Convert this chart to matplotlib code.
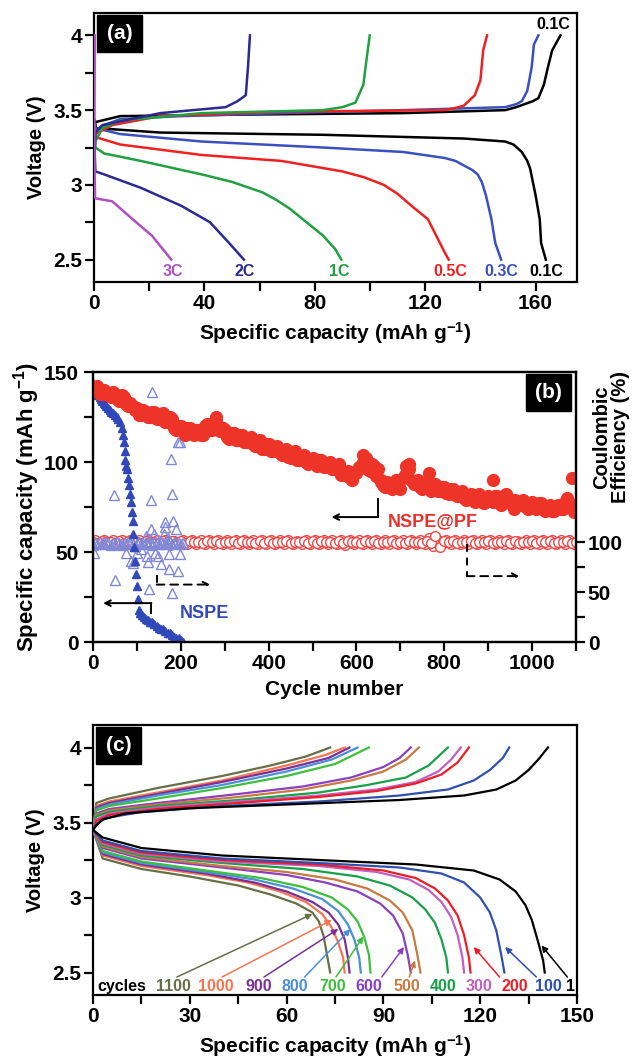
import matplotlib
matplotlib.use('Agg')
import matplotlib.pyplot as plt
from matplotlib.patches import Rectangle
from matplotlib.ticker import MultipleLocator, FixedLocator

plt.rcParams['font.family'] = ['Liberation Sans', 'DejaVu Sans']
plt.rcParams['font.weight'] = 'bold'
plt.rcParams['axes.labelweight'] = 'bold'
plt.rcParams['mathtext.fontset'] = 'custom'
plt.rcParams['mathtext.rm'] = 'Liberation Sans:bold'
plt.rcParams['mathtext.bf'] = 'Liberation Sans:bold'
plt.rcParams['mathtext.default'] = 'bf'

# ---------------- (a) rate curves: capacity (mAh/g), voltage (V) ----------------
q_ch_01 = [0, 0.5, 9.5, 54, 112, 149, 153, 156, 159, 161, 163, 164.5, 166, 169]
v_ch_01 = [3.30, 3.42, 3.46, 3.47, 3.48, 3.50, 3.52, 3.54, 3.56, 3.58, 3.67, 3.79, 3.90, 4.0]
q_dc_01 = [0, 0.7, 24, 83, 134, 149, 152, 155, 157, 158, 160, 161.5, 162, 163.7]
v_dc_01 = [3.44, 3.38, 3.35, 3.335, 3.31, 3.29, 3.27, 3.22, 3.16, 3.11, 2.93, 2.77, 2.61, 2.5]

q_ch_03 = [0, 0.5, 3.7, 9.5, 31.6, 68, 112, 149, 153, 155, 157, 158.6, 159.4, 161]
v_ch_03 = [3.28, 3.36, 3.40, 3.44, 3.46, 3.48, 3.50, 3.52, 3.54, 3.56, 3.63, 3.79, 3.94, 4.0]
q_dc_03 = [0, 0.5, 9.5, 39, 83, 112, 127, 131, 134, 137, 139, 140.5, 142, 144, 145.4, 147.5]
v_dc_03 = [3.42, 3.38, 3.34, 3.29, 3.25, 3.22, 3.18, 3.16, 3.13, 3.10, 3.07, 3.02, 2.93, 2.77, 2.61, 2.5]

q_ch_05 = [0, 0.5, 6.6, 24, 68, 127, 131, 134, 138, 140, 141, 142.4]
v_ch_05 = [3.25, 3.34, 3.40, 3.46, 3.49, 3.50, 3.515, 3.53, 3.60, 3.70, 3.90, 4.0]
q_dc_05 = [0, 0.5, 9.5, 39, 68, 90, 98, 105, 110, 115, 121, 124, 127, 128.5]
v_dc_05 = [3.40, 3.32, 3.27, 3.20, 3.16, 3.09, 3.05, 3.00, 2.94, 2.86, 2.77, 2.66, 2.55, 2.5]

q_ch_1 = [0, 0.5, 3, 9.5, 39, 83, 90, 94.7, 97.6, 98.4, 99.9]
v_ch_1 = [3.2, 3.29, 3.38, 3.43, 3.48, 3.50, 3.52, 3.55, 3.67, 3.79, 4.0]
q_dc_1 = [0, 0.5, 3.7, 17, 39, 50, 61, 66, 71, 77, 83, 87.4, 89.6]
v_dc_1 = [3.38, 3.25, 3.21, 3.16, 3.07, 3.02, 2.95, 2.90, 2.84, 2.75, 2.66, 2.57, 2.5]

q_ch_2 = [0, 0.5, 3, 24, 47.7, 52, 55, 55.8, 56.5]
v_ch_2 = [3.1, 3.35, 3.40, 3.48, 3.52, 3.56, 3.60, 3.79, 4.0]
q_dc_2 = [0, 0.5, 3.7, 17, 31.6, 42, 49, 54.3]
v_dc_2 = [3.35, 3.09, 3.07, 2.98, 2.86, 2.75, 2.61, 2.5]

q_ch_3 = [0, 0.3]
v_ch_3 = [2.95, 4.0]
q_dc_3 = [0, 0.4, 6.6, 14, 21, 28]
v_dc_3 = [3.3, 2.91, 2.89, 2.77, 2.66, 2.5]

rate_names = ['0.1C', '0.3C', '0.5C', '1C', '2C', '3C']
rate_colors = ['black', '#3a50c0', '#f02020', '#20a040', '#2a2a90', '#b050c0']
rate_label_x = [164, 147.5, 129, 89, 54.5, 28.5]

# ---------------- (b) cycling ----------------
pf_cycle = list(range(0, 1101, 10))
pf_cap = [140, 142, 138, 139, 136, 138, 134, 136, 131, 131,
          130, 126, 128, 125, 128, 124, 127, 122, 124, 118,
          120, 115, 119, 115, 118, 115, 121, 118, 123, 117,
          118, 113, 116, 112, 115, 111, 114, 109, 112, 107,
          110, 106, 109, 104, 107, 102, 106, 101, 104, 99,
          102, 98, 101, 97, 100, 96, 99, 93, 95, 90,
          94, 97, 101, 95, 98, 96, 87, 89, 85, 90,
          85, 93, 96, 88, 90, 85, 89, 84, 88, 84,
          86, 82, 85, 81, 84, 79, 82, 78, 82, 77,
          81, 78, 81, 76, 82, 77, 79, 76, 79, 74,
          78, 74, 77, 73, 76, 73, 76, 74, 80, 76,
          73]
pf_cycle2 = list(range(5, 1100, 10))
pf_cap2 = [141, 138, 140, 137, 139, 135, 137, 132, 133, 129,
           126, 129, 125, 128, 124, 126, 122, 125, 119, 120,
           118, 119, 116, 118, 115, 120, 118, 122, 120, 119,
           114, 116, 112, 115, 111, 113, 110, 111, 107, 110,
           106, 108, 105, 106, 103, 105, 101, 103, 100, 101,
           99, 101, 97, 99, 96, 97, 93, 94, 91, 94,
           97, 100, 96, 99, 92, 89, 86, 88, 87, 88,
           91, 95, 90, 89, 86, 89, 85, 87, 84, 86,
           83, 85, 82, 83, 80, 81, 79, 81, 78, 80,
           79, 81, 78, 80, 78, 79, 77, 78, 75, 77,
           75, 77, 74, 75, 73, 75, 74, 78, 77, 74]
pf_out_cycle = [280, 615, 622, 712, 720, 765, 912, 1090, 958, 1095, 655]
pf_out_cap = [125, 104, 102, 98, 99, 94, 90, 91, 74, 72, 90]

pf_ce = [100.5, 99.2, 101.0, 99.8, 100.3, 98.9, 100.8, 99.5, 101.2, 99.9,
         100.2, 99.1, 100.9, 99.6, 100.4, 98.8, 101.1, 99.7, 100.6, 99.3,
         100.7, 99.0, 101.3, 99.8, 100.1, 99.4, 100.9, 99.6, 101.0, 99.2,
         100.4, 99.7, 101.2, 99.1, 100.6, 99.9, 100.3, 98.9, 101.0, 99.5,
         100.8, 99.3, 100.5, 99.8, 101.1, 99.0, 100.2, 99.6, 100.9, 99.4,
         100.6, 99.1, 101.2, 99.7, 100.3, 98.9, 100.8, 99.5, 101.0, 99.8,
         100.1, 99.3, 100.7, 99.6, 101.1, 99.2, 100.4, 99.9, 100.9, 99.0,
         100.5, 99.4, 101.3, 99.7, 100.2, 99.1, 100.8, 99.5, 106.0, 95.0,
         100.6, 99.8, 101.0, 99.3, 100.3, 99.6, 100.9, 99.0, 100.5, 99.7,
         101.2, 99.4, 100.1, 99.8, 100.7, 99.2, 101.0, 99.5, 100.4, 99.9,
         100.8, 99.1, 100.6, 99.6, 101.1, 99.3, 100.2, 99.7, 100.9, 99.4,
         100.3]
pf_ce2 = [102.1, 97.8, 101.6, 98.3, 102.4, 97.6, 101.9, 98.1, 102.2, 97.9,
          101.7, 98.4, 102.5, 97.7, 101.8, 98.0, 102.3, 97.5, 101.5, 98.2,
          102.0, 97.9, 101.6, 98.5, 102.4, 97.8, 101.9, 98.1, 102.1, 97.6,
          101.8, 98.3, 102.2, 97.7, 101.6, 98.0, 102.5, 97.9, 101.7, 98.2,
          102.0, 97.6, 101.9, 98.4, 102.3, 97.8, 101.5, 98.1, 102.2, 97.7,
          101.8, 98.0, 102.4, 97.9, 101.6, 98.3, 102.1, 97.5, 101.9, 98.2,
          102.3, 97.8, 101.7, 98.1, 102.0, 97.6, 101.8, 98.4, 102.2, 97.9,
          101.6, 98.0, 102.5, 97.7, 101.9, 98.2, 104.5, 96.5, 102.1, 97.8,
          101.7, 98.3, 102.3, 97.6, 101.8, 98.1, 102.0, 97.9, 101.6, 98.2,
          102.4, 97.7, 101.9, 98.0, 102.2, 97.8, 101.5, 98.3, 102.1, 97.6,
          101.8, 98.1, 102.3, 97.9, 101.7, 98.2, 102.0, 97.7, 101.9, 98.0]

nspe_cycle = [0, 3, 6, 9, 12, 15, 18, 21, 24, 27, 30, 34, 38, 42, 46, 50, 54, 58,
              62, 65, 68, 70, 72, 74, 76, 78, 80, 82, 84, 86, 88, 90, 92, 94, 96,
              98, 100, 102, 105, 108, 112, 116, 120, 125, 130, 135, 140, 145, 150,
              155, 160, 165, 170, 175, 180, 185, 190, 195, 200, 205]
nspe_cap = [144, 141, 139, 138, 137, 136, 135, 134, 133, 132, 131, 130, 129, 128,
            127, 126, 125, 124, 122, 119, 115, 111, 106, 101, 98, 96, 91, 87, 82,
            78, 72, 67, 60, 53, 45, 38, 31, 24, 18, 16, 15, 14, 13, 12, 11, 11,
            10, 9, 8, 7, 7, 6, 5, 5, 4, 3, 2, 2, 1, 0]

nspe_ce_cycle = [0, 5, 10, 15, 20, 25, 30, 35, 40, 45, 50, 55, 60, 65, 70, 75, 80,
                 85, 90, 95, 100, 105, 110, 115, 120, 125, 130, 135, 140, 145, 150,
                 155, 160, 165, 170, 175, 180, 185, 190, 195, 200, 205,
                 2, 48, 50, 76, 87, 92, 101, 110, 121, 124, 126, 131, 133, 138,
                 142, 147, 128, 154, 135, 161, 163, 165, 170, 174, 174, 179, 178,
                 183, 188, 193, 179, 193, 197, 197]
nspe_ce = [97, 99, 98, 100, 99, 98, 100, 99, 97, 99, 98, 100, 99, 97, 99, 98, 100,
           99, 98, 96, 99, 100, 98, 99, 100, 98, 99, 97, 100, 99, 98, 100, 99, 98,
           99, 100, 98, 99, 100, 99, 98, 99,
           89, 147, 62, 89, 81, 79, 89, 93, 106, 86, 80, 142, 113, 108, 89, 86,
           53, 78, 250, 108, 120, 115, 104, 88, 73, 148, 183, 121, 113, 71, 49,
           200, 200, 88]

# ---------------- (c) charge/discharge at selected cycles ----------------
cyc_names = ['1', '100', '200', '300', '400', '500', '600', '700', '800', '900', '1000', '1100']
cyc_colors = ['black', '#3050b0', '#ee1c24', '#c060c0', '#18a048', '#c87a40',
              '#8a40c0', '#3cbf3c', '#4a90d9', '#7b2f95', '#f77550', '#667048']

ch_q = [
    [0, 1, 3, 10, 30, 60, 95, 115, 125, 131, 135, 138, 141],
    [0, 1, 4, 15, 40, 70, 95, 110, 118, 123, 127, 129],
    [0, 1, 5, 20, 45, 70, 88, 100, 108, 113, 116.5],
    [0, 1, 5, 20, 45, 70, 88, 100, 107, 111, 114],
    [0, 1, 5, 20, 45, 70, 85, 97, 104, 110],
    [0, 1, 5, 20, 45, 65, 80, 90, 97, 101],
    [0, 1, 5, 20, 45, 65, 80, 90, 95, 98.5],
    [0, 1, 5, 20, 40, 60, 75, 85.5],
    [0, 1, 5, 20, 40, 60, 74, 82],
    [0, 1, 5, 20, 40, 60, 73, 79.5],
    [0, 1, 5, 20, 40, 60, 72, 78],
    [0, 1, 5, 20, 40, 55, 66, 73.5],
]
ch_v = [
    [3.45, 3.48, 3.52, 3.56, 3.595, 3.62, 3.65, 3.68, 3.72, 3.78, 3.85, 3.92, 4.0],
    [3.45, 3.49, 3.53, 3.57, 3.61, 3.64, 3.68, 3.72, 3.78, 3.85, 3.93, 4.0],
    [3.45, 3.51, 3.55, 3.59, 3.63, 3.67, 3.71, 3.76, 3.82, 3.9, 4.0],
    [3.45, 3.52, 3.56, 3.6, 3.64, 3.68, 3.72, 3.77, 3.84, 3.92, 4.0],
    [3.45, 3.54, 3.57, 3.61, 3.65, 3.7, 3.75, 3.8, 3.88, 4.0],
    [3.45, 3.55, 3.58, 3.62, 3.67, 3.72, 3.78, 3.84, 3.92, 4.0],
    [3.45, 3.56, 3.59, 3.63, 3.69, 3.74, 3.8, 3.87, 3.93, 4.0],
    [3.45, 3.58, 3.61, 3.66, 3.73, 3.81, 3.89, 4.0],
    [3.45, 3.59, 3.62, 3.68, 3.75, 3.84, 3.92, 4.0],
    [3.45, 3.6, 3.63, 3.69, 3.77, 3.86, 3.93, 4.0],
    [3.45, 3.61, 3.64, 3.7, 3.78, 3.88, 3.95, 4.0],
    [3.45, 3.63, 3.66, 3.73, 3.81, 3.88, 3.94, 4.0],
]
dc_q = [
    [0, 3, 15, 40, 70, 100, 118, 126, 131, 134, 136, 138, 139.5, 140],
    [0, 3, 15, 40, 70, 95, 108, 115, 120, 123, 125, 126.5, 127.5],
    [0, 3, 15, 40, 70, 90, 100, 106, 110, 113, 115, 116.5, 117],
    [0, 3, 15, 40, 70, 88, 98, 104, 108, 111, 113, 114.5, 115],
    [0, 3, 15, 40, 65, 82, 92, 99, 103, 106, 108, 109.5, 110],
    [0, 3, 15, 40, 60, 75, 85, 92, 96, 99, 100.5, 101.5],
    [0, 3, 15, 40, 60, 72, 82, 89, 93, 96, 97.5, 98.5],
    [0, 3, 15, 35, 52, 65, 74, 79, 82, 84, 85.5, 86],
    [0, 3, 15, 35, 50, 62, 71, 76, 79, 81, 82.5, 83],
    [0, 3, 15, 35, 50, 60, 68, 73, 76, 78, 79, 79.5],
    [0, 3, 15, 35, 48, 58, 66, 71, 74, 76, 77.5, 78],
    [0, 3, 15, 30, 45, 55, 63, 68, 70, 71.5, 72.5, 73.5],
]
dc_v = [
    [3.45, 3.4, 3.33, 3.28, 3.25, 3.22, 3.18, 3.12, 3.04, 2.95, 2.85, 2.7, 2.58, 2.5],
    [3.45, 3.38, 3.31, 3.26, 3.23, 3.2, 3.16, 3.1, 3.0, 2.9, 2.78, 2.62, 2.5],
    [3.45, 3.37, 3.3, 3.25, 3.22, 3.18, 3.13, 3.06, 2.98, 2.88, 2.75, 2.6, 2.5],
    [3.45, 3.36, 3.29, 3.24, 3.21, 3.17, 3.12, 3.05, 2.97, 2.87, 2.75, 2.6, 2.5],
    [3.45, 3.35, 3.28, 3.23, 3.19, 3.14, 3.08, 3.0, 2.92, 2.83, 2.72, 2.6, 2.5],
    [3.45, 3.34, 3.27, 3.21, 3.17, 3.12, 3.06, 2.98, 2.9, 2.78, 2.62, 2.5],
    [3.45, 3.33, 3.26, 3.2, 3.15, 3.1, 3.04, 2.96, 2.88, 2.76, 2.62, 2.5],
    [3.45, 3.31, 3.24, 3.18, 3.13, 3.07, 3.0, 2.92, 2.84, 2.74, 2.62, 2.5],
    [3.45, 3.3, 3.23, 3.17, 3.12, 3.06, 2.99, 2.91, 2.82, 2.72, 2.6, 2.5],
    [3.45, 3.29, 3.22, 3.16, 3.1, 3.04, 2.97, 2.9, 2.82, 2.72, 2.6, 2.5],
    [3.45, 3.28, 3.21, 3.15, 3.1, 3.04, 2.97, 2.89, 2.8, 2.7, 2.6, 2.5],
    [3.45, 3.26, 3.19, 3.14, 3.08, 3.02, 2.96, 2.9, 2.84, 2.74, 2.62, 2.5],
]
cyc_label_x = [148, 141, 130.8, 119.5, 108.6, 97.3, 85.5, 74.3, 62.7, 51.3, 38, 24.8]
# arrow tail / head for the labelled cycles (None = no arrow)
cyc_arrows = [((147, 2.47), (139, 2.68)), ((137.4, 2.47), (127.7, 2.67)),
              ((126, 2.47), (118, 2.67)), None, None,
              ((98, 2.47), (99.8, 2.58)), ((89.5, 2.47), (96.4, 2.67)),
              ((75.3, 2.47), (83.8, 2.74)), ((65.6, 2.47), (79.8, 2.79)),
              ((53, 2.47), (76, 2.79)), ((40, 2.47), (74, 2.85)),
              ((26, 2.47), (68, 2.89))]

TICK = 15
LAB = 15


def style(ax):
    for s in ax.spines.values():
        s.set_linewidth(1.6)
    ax.tick_params(which='major', direction='out', length=6.5, width=1.6,
                   labelsize=TICK)
    ax.tick_params(which='minor', direction='out', length=6.5, width=1.6)
    ax.tick_params(axis='x', pad=2)
    ax.tick_params(axis='y', pad=2)


def tag(ax, s, x0, y0):
    ax.add_patch(Rectangle((x0, y0), 0.093, 0.138, transform=ax.transAxes,
                           fc='black', ec='black', zorder=10, clip_on=False))
    ax.text(x0 + 0.0465, y0 + 0.069, s, transform=ax.transAxes, color='white',
            fontsize=15, ha='center', va='center', zorder=11)


W, H = 633, 1061
fig = plt.figure(figsize=(W / 100, H / 100), dpi=100)

# ---------------- panel (a) ----------------
ax = fig.add_axes([94 / W, 1 - 282 / H, 483 / W, 269 / H])
rate_q_ch = [q_ch_01, q_ch_03, q_ch_05, q_ch_1, q_ch_2, q_ch_3]
rate_v_ch = [v_ch_01, v_ch_03, v_ch_05, v_ch_1, v_ch_2, v_ch_3]
rate_q_dc = [q_dc_01, q_dc_03, q_dc_05, q_dc_1, q_dc_2, q_dc_3]
rate_v_dc = [v_dc_01, v_dc_03, v_dc_05, v_dc_1, v_dc_2, v_dc_3]
for i in range(len(rate_names)):
    ax.plot(rate_q_ch[i], rate_v_ch[i], color=rate_colors[i], lw=1.8, zorder=3)
    ax.plot(rate_q_dc[i], rate_v_dc[i], color=rate_colors[i], lw=1.8, zorder=3)
    ax.text(rate_label_x[i], 2.42, rate_names[i], color=rate_colors[i],
            fontsize=11.5, ha='center', va='center')
ax.text(166.5, 4.075, '0.1C', color='black', fontsize=11.5, ha='center', va='center')
ax.set_xlim(0, 175)
ax.set_ylim(2.35, 4.15)
ax.xaxis.set_major_locator(MultipleLocator(40))
ax.xaxis.set_minor_locator(MultipleLocator(20))
ax.yaxis.set_major_locator(FixedLocator([2.5, 3, 3.5, 4]))
ax.yaxis.set_minor_locator(FixedLocator([2.75, 3.25, 3.75]))
ax.set_yticklabels(['2.5', '3', '3.5', '4'])
style(ax)
ax.set_xlabel('Specific capacity (mAh g$^{-1}$)', fontsize=LAB, labelpad=5)
ax.set_ylabel('Voltage (V)', fontsize=14.5, labelpad=5)
tag(ax, '(a)', 0.006, 0.855)

# ---------------- panel (b) ----------------
axb = fig.add_axes([93 / W, 1 - 642 / H, 483 / W, 270 / H])
axr = axb.twinx()
axb.set_zorder(axr.get_zorder() + 1)
axb.patch.set_visible(False)

axr.plot(pf_cycle2, pf_ce2, 'o', ms=7, mfc='white', mec='#f04848', mew=1.0)
axr.plot(pf_cycle, pf_ce, 'o', ms=7, mfc='white', mec='#f04848', mew=1.0)
axr.plot(nspe_ce_cycle, nspe_ce, '^', ms=7, mfc='none', mec='#8088d8', mew=1.0)
axb.plot(nspe_cycle, nspe_cap, '^', ms=6, color='#3048b8', mec='#3048b8')
axb.plot(pf_cycle2, pf_cap2, 'o', ms=8.5, color='#ee3328', mec='#ee3328')
axb.plot(pf_cycle, pf_cap, 'o', ms=8.5, color='#ee3328', mec='#ee3328')
axb.plot(pf_out_cycle, pf_out_cap, 'o', ms=8.5, color='#ee3328', mec='#ee3328')

axb.set_xlim(0, 1100)
axb.set_ylim(0, 150)
axr.set_ylim(0, 270)
axb.xaxis.set_major_locator(MultipleLocator(200))
axb.xaxis.set_minor_locator(MultipleLocator(100))
axb.yaxis.set_major_locator(MultipleLocator(50))
axb.yaxis.set_minor_locator(MultipleLocator(25))
axr.yaxis.set_major_locator(FixedLocator([0, 50, 100]))
axr.yaxis.set_minor_locator(FixedLocator([25, 75]))
style(axb)
style(axr)
axb.tick_params(axis='y', pad=4)
axb.set_xlabel('Cycle number', fontsize=LAB, labelpad=5)
axb.set_ylabel('Specific capacity (mAh g$^{-1}$)', fontsize=16, labelpad=1)
fig.text(611 / W, 1 - 437 / H, 'Coulombic\nEfficiency (%)', rotation=90,
         fontsize=14.5, ha='center', va='center', multialignment='center',
         linespacing=1.05)

# arrows
axb.plot([649, 649], [79.7, 69.4], color='black', lw=1.4)
axb.annotate('', xy=(543, 69.4), xytext=(649, 69.4),
             arrowprops=dict(arrowstyle='->', color='black', lw=1.4,
                             shrinkA=0, shrinkB=0))
axb.plot([851, 851], [54.4, 36.6], color='black', lw=1.4, ls=(0, (4, 3)))
axb.annotate('', xy=(971, 36.6), xytext=(851, 36.6),
             arrowprops=dict(arrowstyle='->', color='black', lw=1.4,
                             ls=(0, (4, 3)), shrinkA=0, shrinkB=0))
axb.plot([133, 133], [16, 21.6], color='black', lw=1.4)
axb.annotate('', xy=(23, 21.6), xytext=(133, 21.6),
             arrowprops=dict(arrowstyle='->', color='black', lw=1.4,
                             shrinkA=0, shrinkB=0))
axb.plot([145, 145], [37.5, 31.9], color='black', lw=1.4, ls=(0, (4, 3)))
axb.annotate('', xy=(267, 31.9), xytext=(145, 31.9),
             arrowprops=dict(arrowstyle='->', color='black', lw=1.4,
                             ls=(0, (4, 3)), shrinkA=0, shrinkB=0))
axb.text(773, 66.6, 'NSPE@PF', color='#e8302a', fontsize=13, ha='center', va='center')
axb.text(253, 16, 'NSPE', color='#3048b8', fontsize=13, ha='center', va='center')
tag(axb, '(b)', 0.897, 0.855)

# ---------------- panel (c) ----------------
axc = fig.add_axes([93 / W, 1 - 995 / H, 484 / W, 270 / H])
for i in range(len(cyc_names) - 1, -1, -1):
    axc.plot(ch_q[i], ch_v[i], color=cyc_colors[i], lw=1.6, zorder=3)
    axc.plot(dc_q[i], dc_v[i], color=cyc_colors[i], lw=1.6, zorder=3)
for i in range(len(cyc_names)):
    axc.text(cyc_label_x[i], 2.405, cyc_names[i], color=cyc_colors[i],
             fontsize=11.5, ha='center', va='center')
    if cyc_arrows[i] is not None:
        tail, head = cyc_arrows[i]
        axc.annotate('', xy=head, xytext=tail,
                     arrowprops=dict(arrowstyle='-|>', color=cyc_colors[i],
                                     lw=1.1, mutation_scale=9,
                                     shrinkA=0, shrinkB=0))
axc.text(8.8, 2.405, 'cycles', color='black', fontsize=11.5, ha='center', va='center')
axc.set_xlim(0, 150)
axc.set_ylim(2.35, 4.15)
axc.xaxis.set_major_locator(MultipleLocator(30))
axc.xaxis.set_minor_locator(MultipleLocator(15))
axc.yaxis.set_major_locator(FixedLocator([2.5, 3, 3.5, 4]))
axc.yaxis.set_minor_locator(FixedLocator([2.75, 3.25, 3.75]))
axc.set_yticklabels(['2.5', '3', '3.5', '4'])
style(axc)
axc.set_xlabel('Specific capacity (mAh g$^{-1}$)', fontsize=LAB, labelpad=5)
axc.set_ylabel('Voltage (V)', fontsize=14.5, labelpad=5)
tag(axc, '(c)', 0.006, 0.855)

fig.savefig('out.png', dpi=100)
